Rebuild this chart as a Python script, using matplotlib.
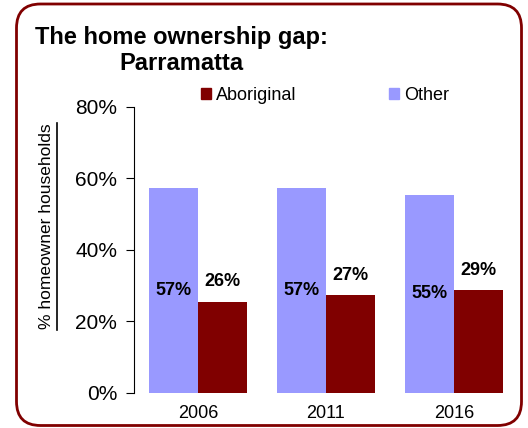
import numpy as np
import matplotlib
matplotlib.use('Agg')
import matplotlib.pyplot as plt
from matplotlib.patches import FancyBboxPatch, Rectangle
from matplotlib.lines import Line2D

# home ownership gap, Parramatta

years = ['2006', '2011', '2016']
other = [57.3, 57.4, 55.4]
aboriginal = [25.5, 27.4, 28.8]
other_labels = ['57%', '57%', '55%']
aboriginal_labels = ['26%', '27%', '29%']
y_ticks = [0, 20, 40, 60, 80]

RED = '#800000'
BLUE = '#9999FF'


def save_and_show_result():
    plt.rcParams['font.family'] = ['Liberation Sans', 'DejaVu Sans']
    fig = plt.figure(figsize=(5.28, 4.28), dpi=100)

    # rounded frame round the whole chart
    frame = FancyBboxPatch((0.165, 0.025), 5.05, 4.215, boxstyle='round,pad=0,rounding_size=0.24',
                           transform=fig.dpi_scale_trans, facecolor='none',
                           edgecolor=RED, linewidth=2.0)
    fig.patches.append(frame)

    ax = fig.add_axes([0.2538, 0.0818, 0.727, 0.6682])
    x = np.arange(len(years))
    w = 0.383
    ax.bar(x - w / 2, other, width=w, color=BLUE, label='Other')
    ax.bar(x + w / 2, aboriginal, width=w, color=RED, label='Aboriginal')

    for i in range(len(years)):
        ax.text(x[i] - w / 2, other[i] / 2, other_labels[i], ha='center', va='center',
                fontsize=13, fontweight='bold')
        ax.text(x[i] + w / 2, aboriginal[i] + 5.6, aboriginal_labels[i], ha='center',
                va='center', fontsize=13, fontweight='bold')

    ax.set_xlim(-0.5, 2.5)
    ax.set_ylim(0, 80)
    ax.set_yticks(y_ticks)
    ax.set_yticklabels(['%d%%' % t for t in y_ticks], fontsize=15)
    ax.set_xticks(x)
    ax.set_xticklabels(years, fontsize=13)
    ax.tick_params(axis='x', length=0, pad=9)
    ax.tick_params(axis='y', length=6, width=0.8, direction='out', pad=6)
    for s in ['top', 'right', 'bottom']:
        ax.spines[s].set_visible(False)
    ax.spines['left'].set_linewidth(0.8)

    fig.text(0.343, 0.882, 'The home ownership gap:\nParramatta', ha='center', va='center',
             fontsize=17, fontweight='bold', linespacing=1.2)

    # y label, underlined
    fig.text(0.089, 0.471, '% homeowner households', rotation=90, ha='center', va='center',
             fontsize=12.5)
    fig.lines.append(Line2D([0.108, 0.108], [0.228, 0.712], transform=fig.transFigure,
                            color='black', linewidth=1.2))

    handles = [Rectangle((0, 0), 1, 1, color=RED), Rectangle((0, 0), 1, 1, color=BLUE)]
    fig.legend(handles, ['Aboriginal', 'Other'], loc='center', bbox_to_anchor=(0.616, 0.778),
               ncol=2, frameon=False, handlelength=0.55, handleheight=0.55, handletextpad=0.3,
               columnspacing=5.1, prop={'size': 13})

    plt.savefig('out.png', dpi=100)


def main():
    save_and_show_result()


if __name__ == '__main__':
    main()
